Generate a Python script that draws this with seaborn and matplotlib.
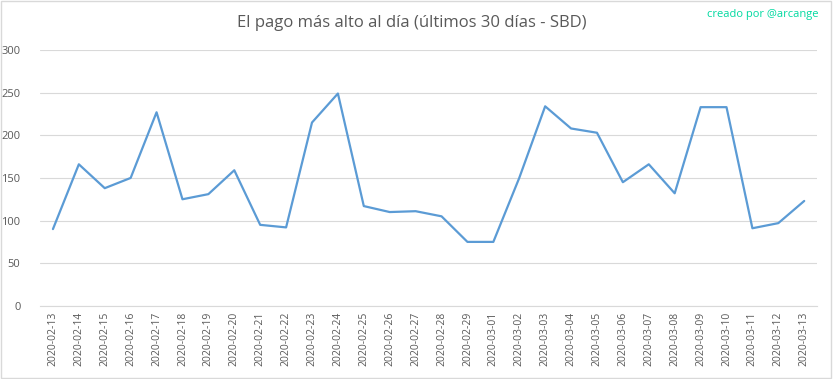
import pandas as pd
import matplotlib
matplotlib.use("Agg")
import matplotlib.pyplot as plt
import seaborn as sns

# data
dates = pd.date_range("2020-02-13", "2020-03-13").strftime("%Y-%m-%d").tolist()
pago = [90, 166, 138, 150, 227, 125, 131, 159, 95, 92,
        215, 249, 117, 110, 111, 105, 75, 75, 150, 234,
        208, 203, 145, 166, 132, 233, 233, 91, 97, 123]
yticks = [0, 50, 100, 150, 200, 250, 300]

df = pd.DataFrame({"fecha": dates, "pago": pago})
df["pos"] = range(len(df))

sns.set_style("white")
plt.rcParams["font.family"] = ["Open Sans", "DejaVu Sans"]

fig = plt.figure(figsize=(8.33, 3.79), dpi=100)
ax = fig.add_axes([0.048, 0.193, 0.933, 0.675])

sns.lineplot(x="pos", y="pago", data=df, color="#5B9BD5", linewidth=1.6, ax=ax)

ax.set_xlim(-0.5, len(df) - 0.5)
ax.set_ylim(0, 300)
ax.set_yticks(yticks)
ax.set_xticks(df["pos"])
ax.set_xticklabels(df["fecha"], rotation=90, fontsize=7.5, color="#595959")
ax.tick_params(axis="y", labelsize=8, colors="#595959", length=0, pad=14)
ax.tick_params(axis="x", length=0, pad=4)
ax.grid(axis="y", color="#D9D9D9", linewidth=0.8)
ax.set_axisbelow(True)
for s in ["top", "right", "left"]:
    ax.spines[s].set_visible(False)
ax.spines["bottom"].set_color("#D9D9D9")
ax.set_xlabel("")
ax.set_ylabel("")

fig.text(0.494, 0.94, "El pago más alto al día (últimos 30 días - SBD)",
         ha="center", va="center", fontsize=12, color="#595959")
fig.text(0.983, 0.962, "creado por @arcange", ha="right", va="center",
         fontsize=8, color="#00D9A0")

# light frame around the picture
fig.patches.append(plt.Rectangle((0.001, 0.002), 0.997, 0.995, transform=fig.transFigure,
                                 fill=False, edgecolor="#D9D9D9", linewidth=1))

plt.savefig("out.png", dpi=100)
